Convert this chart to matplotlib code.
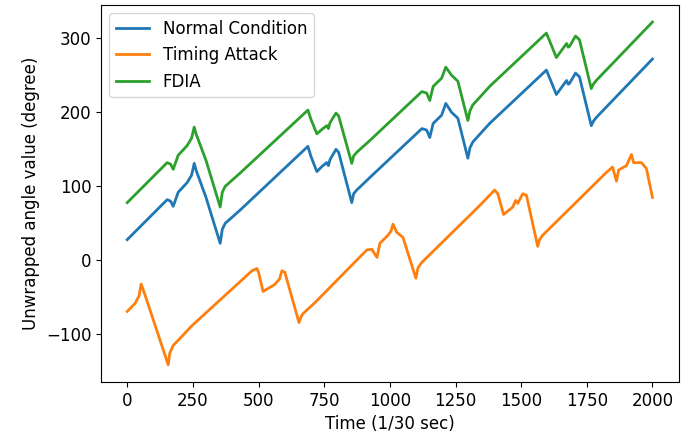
import matplotlib
matplotlib.use('Agg')
import matplotlib.pyplot as plt

# Normal condition
t_normal = [0, 152, 165, 175, 194, 228, 245, 255, 262, 300, 354, 362, 373, 430,
            688, 700, 722, 745, 760, 766, 772, 795, 805, 855, 862, 874, 924,
            1122, 1140, 1152, 1165, 1197, 1213, 1235, 1259, 1297, 1305, 1316, 1380,
            1596, 1610, 1634, 1673, 1679, 1684, 1707, 1722, 1767, 1775, 1786, 2000]
normal = [28, 82, 80, 73, 92, 105, 115, 131, 122, 85, 23, 42, 50, 68,
          154, 140, 120, 128, 132, 128, 136, 150, 146, 78, 90, 95, 112,
          178, 176, 166, 185, 196, 212, 200, 192, 138, 152, 160, 185,
          257, 245, 224, 243, 238, 239, 253, 248, 182, 188, 193, 272]

# FDIA
fdia = [78, 132, 130, 123, 142, 155, 165, 180, 171, 135, 72, 92, 100, 118,
        203, 190, 171, 178, 182, 178, 186, 199, 195, 131, 141, 146, 162,
        228, 226, 216, 235, 246, 261, 250, 242, 189, 202, 210, 235,
        307, 295, 274, 293, 288, 289, 303, 298, 232, 238, 243, 322]

# Timing attack
t_timing = [0, 30, 45, 53, 68, 156, 162, 175, 247, 475, 494, 500, 517, 560, 573,
            580, 589, 600, 654, 662, 669, 715, 912, 931, 951, 962, 993, 1005,
            1012, 1026, 1050, 1099, 1107, 1121, 1342, 1399, 1411, 1433, 1468,
            1479, 1487, 1506, 1520, 1563, 1570, 1582, 1825, 1848, 1863, 1871,
            1901, 1920, 1928, 1958, 1977, 2000]
timing = [-69, -58, -48, -32, -47, -141, -125, -115, -88, -14, -11, -16, -42, -33, -28,
          -25, -14, -16, -84, -76, -72, -57, 14, 15, 4, 23, 34, 40,
          49, 38, 31, -24, -10, -3, 74, 95, 90, 62, 72,
          81, 77, 90, 88, 19, 28, 34, 119, 126, 107, 122,
          128, 143, 132, 132, 124, 85]

plt.rcParams['font.size'] = 12

fig, ax = plt.subplots(figsize=(6.94, 4.41), dpi=100)
fig.subplots_adjust(left=0.1455, right=0.978, top=0.989, bottom=0.134)

ax.plot(t_normal, normal, label='Normal Condition', lw=2)
ax.plot(t_timing, timing, label='Timing Attack', lw=2)
ax.plot(t_normal, fdia, label='FDIA', lw=2)

ax.set_xlabel('Time (1/30 sec)')
ax.set_ylabel('Unwrapped angle value (degree)')
ax.legend(loc='upper left')

fig.savefig('out.png', dpi=100)
